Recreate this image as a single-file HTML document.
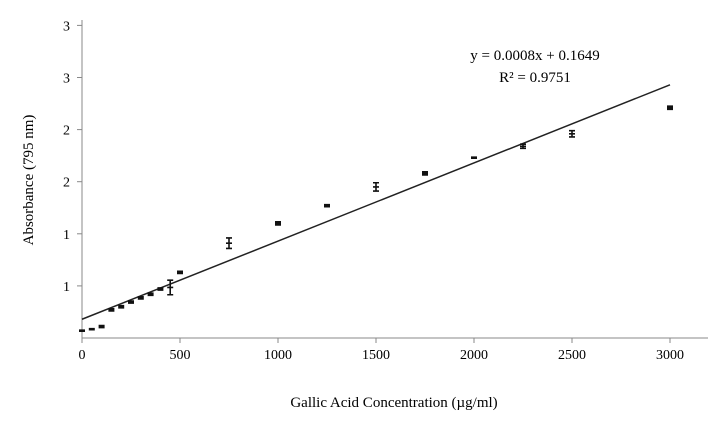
<!DOCTYPE html>
<html><head><meta charset="utf-8"><style>
body{margin:0;background:#fff;}
svg text{font-family:"Liberation Serif",serif;fill:#000;}
</style></head><body>
<svg width="721" height="423" id="chart">
<rect width="721" height="423" fill="#fff"/>
</svg>
<script>
const xCats=[0,50,100,150,200,250,300,350,400,450,500,750,1000,1250,1500,1750,2000,2250,2500,3000];
const yVals=[0.07,0.085,0.11,0.27,0.30,0.345,0.385,0.42,0.47,0.485,0.63,0.91,1.10,1.27,1.45,1.58,1.73,1.84,1.96,2.21];
const yErr=[0.005,0.005,0.01,0.01,0.01,0.01,0.01,0.01,0.01,0.07,0.01,0.05,0.015,0.01,0.04,0.015,0.005,0.02,0.03,0.015];
const xTicks=[0,500,1000,1500,2000,2500,3000];
const yTickVals=[0.5,1,1.5,2,2.5,3];
const yTickLabels=["1","1","2","2","3","3"];
const fitSlope=0.00075, fitIntercept=0.18;
const NS="http://www.w3.org/2000/svg";
const svg=document.getElementById('chart');
const X=v=>82+v*(588/3000);
const Y=v=>338-v*104.2;
function el(t,a,txt){const e=document.createElementNS(NS,t);for(const k in a)e.setAttribute(k,a[k]);if(txt!==undefined)e.textContent=txt;svg.appendChild(e);return e;}
let e;
e=el('line',{x1:82,y1:20,x2:82,y2:338,stroke:'#888','stroke-width':1});


e=el('line',{x1:82,y1:338,x2:708,y2:338,stroke:'#888','stroke-width':1});


yTickVals.forEach((v,i)=>{
 e=el('line',{x1:77,y1:Y(v),x2:82,y2:Y(v),stroke:'#888'});
 
 
 e=el('text',{x:70,y:Y(v)+5,'font-size':14,'text-anchor':'end'},yTickLabels[i]);
 
 
});
xTicks.forEach(v=>{
 e=el('line',{x1:X(v),y1:338,x2:X(v),y2:343,stroke:'#888'});
 
 
 e=el('text',{x:X(v),y:359,'font-size':14,'text-anchor':'middle'},String(v));
 
 
});
e=el('line',{x1:X(0),y1:Y(fitIntercept),x2:X(3000),y2:Y(fitIntercept+fitSlope*3000),stroke:'#222','stroke-width':1.5});


xCats.forEach((c,i)=>{
 const x=X(c),y=Y(yVals[i]),t=Y(yVals[i]+yErr[i]),b=Y(yVals[i]-yErr[i]);
 const g=el('g',{});
 
 
 const p=document.createElementNS(NS,'path');
 p.setAttribute('d',`M${x},${t}V${b}M${x-3},${t}H${x+3}M${x-3},${b}H${x+3}M${x-3},${y}H${x+3}`);
 p.setAttribute('stroke','#111');p.setAttribute('stroke-width','1.6');p.setAttribute('fill','none');
 g.appendChild(p);
});
e=el('text',{x:535,y:60,'font-size':15,'text-anchor':'middle'},'y = 0.0008x + 0.1649');


e=el('text',{x:535,y:82,'font-size':15,'text-anchor':'middle'},'R² = 0.9751');


e=el('text',{x:394,y:407,'font-size':15,'text-anchor':'middle'},'Gallic Acid Concentration (µg/ml)');


e=el('text',{x:0,y:0,'font-size':15,'text-anchor':'middle',transform:'translate(33,180) rotate(-90)'},'Absorbance (795 nm)');


</script>
</body></html>
